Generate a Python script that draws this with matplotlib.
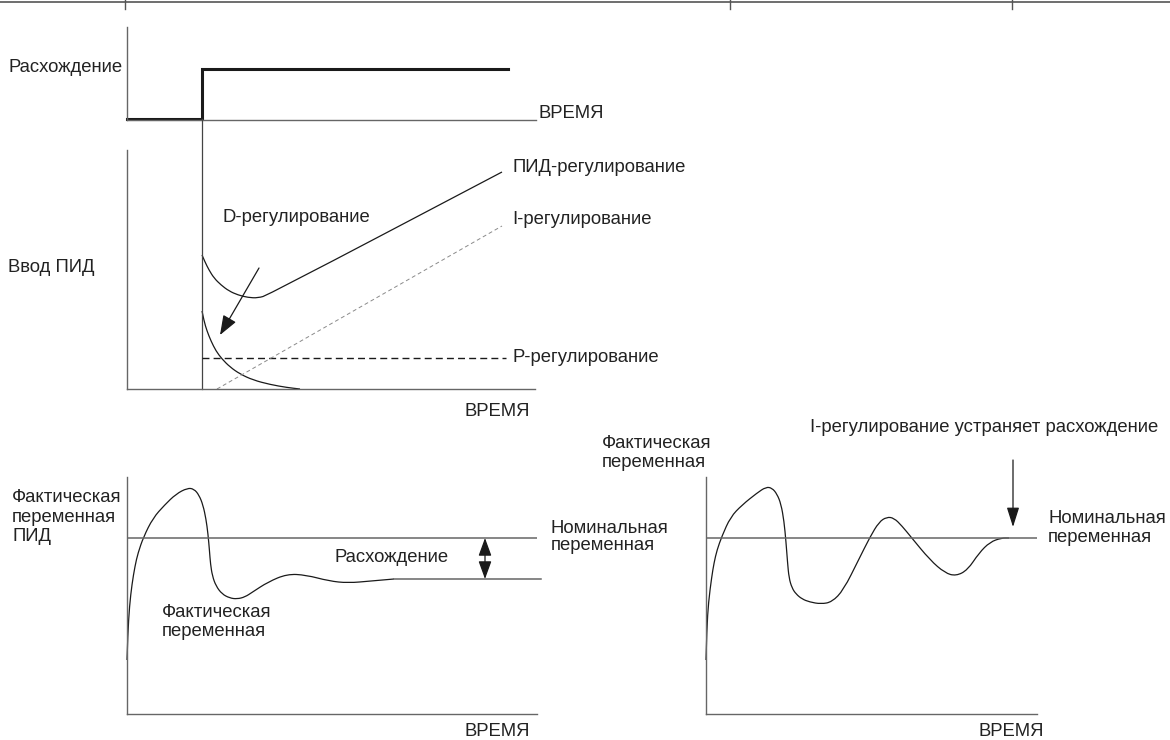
import matplotlib
matplotlib.use("Agg")
import matplotlib.pyplot as plt
from matplotlib.lines import Line2D
from matplotlib.path import Path
from matplotlib.patches import PathPatch

plt.rcParams['font.family'] = ['Liberation Sans', 'DejaVu Sans']
TXT = '#222222'
AXC = '#666666'
CRV = '#1a1a1a'
FS = 13.3

# ---------------- data (panel units) ----------------
# Panel A: error step
err_t = [0, 75, 381]
err_v = [1, 51, 51]
step_time = 75

# Panel B: PID input components
pid_t = [75, 78, 82, 87, 94, 102, 111, 121, 131, 141, 375]
pid_v = [134, 127, 119, 111, 104, 98, 94, 91.5, 91, 94, 217]
d_t = [75, 77, 80, 84, 89, 95, 103, 113, 126, 143, 160, 173]
d_v = [78, 68, 58, 48, 38, 30, 22, 15, 9, 4.5, 1.5, 0]
p_t = [75, 379]
p_v = [31, 31]
i_t = [90, 375]
i_v = [0, 163]

# Panel C: actual variable with PID (offset remains)
c_t = [0, 0.8, 2.5, 5, 8, 11, 16.5, 26, 37.6, 49, 60.5, 67, 72, 76, 79, 81,
       82.5, 83.5, 85.4, 89, 95, 102.6, 110, 118, 125.6, 141, 160, 179, 202,
       221, 244, 267]
c_v = [54, 80, 108, 130, 148, 161, 177, 196, 209, 220, 226, 225, 219, 209,
       195, 180, 163, 150, 138, 128, 120, 116, 115, 117, 122, 132, 140, 139,
       133, 131, 133, 135]
c_settle_t = [267, 414]
c_setpoint = 176

# Panel D: actual variable with I-control (offset removed)
e_t = [0, 0.8, 2.5, 5.7, 8, 11, 16, 24.5, 36, 51, 60, 66, 71, 75, 78, 80,
       81.5, 83, 86, 90, 96, 103.6, 115, 126, 137.5, 152.5, 164, 173, 180.7,
       188, 196, 205, 224, 239, 250, 261.6, 273, 284, 295.5, 303]
e_v = [54, 85, 112, 137, 151, 164, 178, 197, 209, 221, 227, 226, 220, 210,
       193, 172, 152, 136, 126, 120, 115, 112, 110, 112, 124, 154, 177, 192,
       197, 196, 188, 177, 154, 141, 138, 144, 161, 172, 176, 176]
e_setpoint = 176

# ---------------- figure ----------------
W, H = 1170, 740
fig = plt.figure(figsize=(W / 100, H / 100), dpi=100)


def panel(x0, x1, ytop, ybot):
    ax = fig.add_axes([x0 / W, 1 - ybot / H, (x1 - x0) / W, (ybot - ytop) / H])
    ax.set_xlim(0, x1 - x0)
    ax.set_ylim(0, ybot - ytop)
    for s in ('top', 'right'):
        ax.spines[s].set_visible(False)
    for s in ('left', 'bottom'):
        ax.spines[s].set_color(AXC)
        ax.spines[s].set_linewidth(1.0)
    ax.set_xticks([])
    ax.set_yticks([])
    ax.patch.set_alpha(0)
    return ax


def smooth(ax, xs, ys, **kw):
    """Draw a smooth path through the given points (quadratic Bezier joins)."""
    pts = list(zip(xs, ys))
    verts = [pts[0]]
    codes = [Path.MOVETO]
    for i in range(1, len(pts) - 1):
        mid = ((pts[i][0] + pts[i + 1][0]) / 2, (pts[i][1] + pts[i + 1][1]) / 2)
        verts += [pts[i], mid]
        codes += [Path.CURVE3, Path.CURVE3]
    verts.append(pts[-1])
    codes.append(Path.LINETO)
    ax.add_patch(PathPatch(Path(verts, codes), fill=False, clip_on=False, **kw))


def label(ax, x, y, s, **kw):
    kw.setdefault('ha', 'left')
    kw.setdefault('va', 'center')
    ax.text(x, y, s, fontsize=FS, color=TXT, clip_on=False, **kw)


# top rule with ticks
fig.add_artist(Line2D([0, 1], [1 - 2 / H] * 2, transform=fig.transFigure,
                      color='#555555', lw=1.2))
for xt in (125, 730, 1012):
    fig.add_artist(Line2D([xt / W] * 2, [1, 1 - 9 / H], transform=fig.transFigure,
                          color='#555555', lw=1.0))

# Panel A
axA = panel(127, 536, 27, 120)
axA.step(err_t, err_v, where='post', color=CRV, lw=2.2,
         clip_on=False, solid_joinstyle='miter')
label(axA, -4, 53, 'Расхождение', ha='right')
label(axA, 412, 7, 'ВРЕМЯ')

# Panel B
axB = panel(127, 535, 150, 389)
axB.axvline(step_time, ymin=0, ymax=(389 - 119) / 239, color='#444444', lw=0.9,
            clip_on=False)
smooth(axB, pid_t, pid_v, edgecolor=CRV, lw=0.9)
smooth(axB, d_t, d_v, edgecolor=CRV, lw=0.9)
axB.plot(p_t, p_v, color=CRV, lw=1.0, dashes=(5, 3), clip_on=False)
axB.plot(i_t, i_v, color='#8a8a8a', lw=0.7, dashes=(4, 3), clip_on=False)
axB.annotate('', xy=(93, 54), xytext=(132, 121),
             arrowprops=dict(arrowstyle='-|>,head_length=1.2,head_width=0.45',
                             mutation_scale=10, color=CRV, lw=0.9,
                             shrinkA=0, shrinkB=0))
label(axB, 95, 172, 'D-регулирование')
label(axB, 385, 222, 'ПИД-регулирование')
label(axB, 385, 169, 'I-регулирование')
label(axB, 385, 31, 'P-регулирование')
label(axB, 338, -23, 'ВРЕМЯ')
label(axB, -119, 121, 'Ввод ПИД')

# Panel C
axC = panel(127, 537, 477, 714)
axC.axhline(c_setpoint, color=AXC, lw=1.1)
smooth(axC, c_t, c_v, edgecolor=CRV, lw=0.9)
axC.plot(c_settle_t, [c_v[-1]] * 2, color=AXC, lw=1.1, clip_on=False)
axC.annotate('', xy=(358, c_v[-1]), xytext=(358, c_setpoint),
             arrowprops=dict(arrowstyle='<|-|>,head_length=1.1,head_width=0.4',
                             mutation_scale=10, color=CRV, lw=0.9,
                             shrinkA=0, shrinkB=0))
label(axC, -115, 197, 'Фактическая\nпеременная\nПИД')
label(axC, 208, 156, 'Расхождение')
label(axC, 34.5, 92, 'Фактическая\nпеременная')
label(axC, 424, 177, 'Номинальная\nпеременная', linespacing=1.0)
label(axC, 338, -18, 'ВРЕМЯ')

# Panel D
axD = panel(706, 1037, 477, 714)
axD.axhline(e_setpoint, color=AXC, lw=1.1)
smooth(axD, e_t, e_v, edgecolor=CRV, lw=0.9)
axD.annotate('', xy=(307, 187), xytext=(307, 254),
             arrowprops=dict(arrowstyle='-|>,head_length=1.2,head_width=0.38',
                             mutation_scale=10, color=CRV, lw=0.9,
                             shrinkA=0, shrinkB=0))
label(axD, 104, 287, 'I-регулирование устраняет расхождение')
label(axD, -104, 261, 'Фактическая\nпеременная')
label(axD, 342, 186, 'Номинальная\nпеременная')
label(axD, 273, -18, 'ВРЕМЯ')

fig.savefig('out.png', dpi=100, facecolor='white')
